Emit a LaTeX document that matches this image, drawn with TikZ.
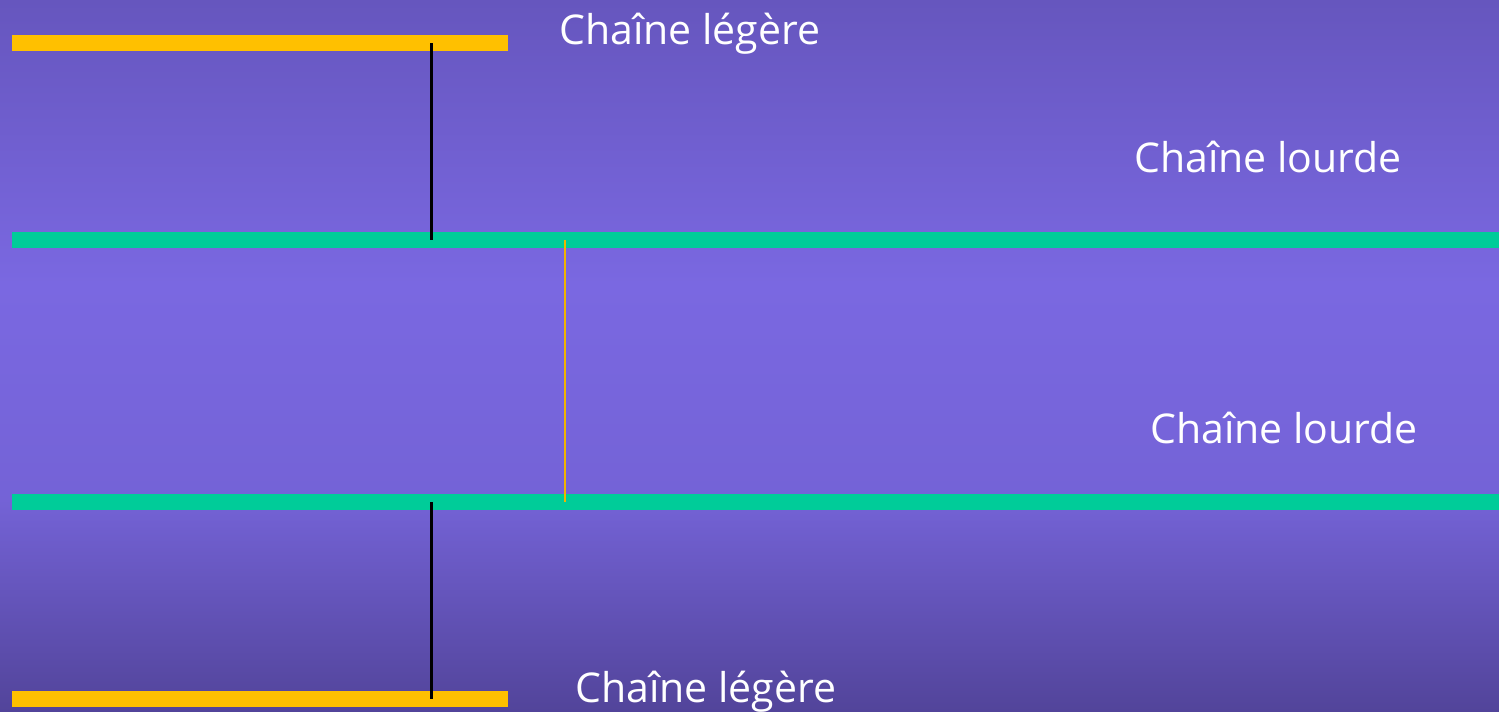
\documentclass[tikz,border=0pt]{standalone}
\usepackage{fontspec}
\setmainfont{Open Sans}
\definecolor{bgtop}{RGB}{102,86,190}
\definecolor{bgmid}{RGB}{122,104,225}
\definecolor{bgbot}{RGB}{82,68,154}
\definecolor{lightchain}{RGB}{255,192,0}
\definecolor{heavychain}{RGB}{0,204,153}
\definecolor{bridgeorange}{RGB}{240,180,0}
% background: darker at top and bottom, brightest a little above the middle
\pgfdeclareverticalshading{bgshade}{100bp}{color(0bp)=(bgbot); color(25bp)=(bgbot); color(40bp)=(bgmid!85!bgbot); color(55bp)=(bgmid); color(75bp)=(bgtop); color(100bp)=(bgtop)}
\tikzset{
  light/.style={rectangle, fill=lightchain, draw=none, inner sep=0pt, minimum width=496pt, minimum height=16pt},
  heavy/.style={rectangle, fill=heavychain, draw=none, inner sep=0pt, minimum width=1487pt, minimum height=16pt},
  label/.style={anchor=base west, inner sep=0pt, text=white, font=\fontsize{41}{49}\selectfont},
  interbridge/.style={draw=black, line width=2.2pt},
  heavybridge/.style={draw=bridgeorange, line width=2.2pt}
}
\begin{document}
\begin{tikzpicture}[x=1pt, y=-1pt]
  \shade[shading=bgshade] (0,0) rectangle (1499,712);
  \useasboundingbox (0,0) rectangle (1499,712);

  % chains
  \node[light] (lc1) at (260,43) {};
  \node[heavy] (hc1) at (755.5,240) {};
  \node[heavy] (hc2) at (755.5,502) {};
  \node[light] (lc2) at (260,699) {};

  % positions of the bridges along the chains
  \coordinate (lhx) at (431.5,0);
  \coordinate (hhx) at (565,0);

  % bridges
  \draw[interbridge] (lc1.center -| lhx) -- (hc1.center -| lhx);
  \draw[heavybridge] (hc1.center -| hhx) -- (hc2.center -| hhx);
  \draw[interbridge] (hc2.center -| lhx) -- (lc2.center -| lhx);

  % labels
  \node[label] (t1) at (559,44) {Chaîne légère};
  \node[label] (t2) at (1134,172) {Chaîne lourde};
  \node[label] (t3) at (1150,443) {Chaîne lourde};
  \node[label] (t4) at (575,702) {Chaîne légère};
\end{tikzpicture}
\end{document}
